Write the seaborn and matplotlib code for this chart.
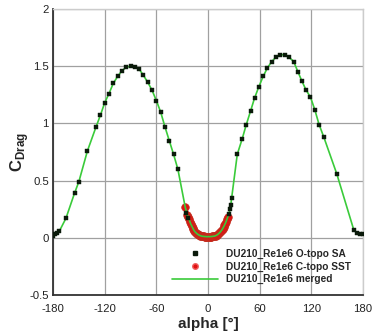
import numpy as np
import pandas as pd
import matplotlib
matplotlib.use("Agg")
import matplotlib.pyplot as plt
import seaborn as sns
from matplotlib.lines import Line2D
from matplotlib.ticker import MultipleLocator

# O-topology, Spalart-Allmaras polar
o_alpha = [-180, -177.5, -175, -172.5, -165, -155, -150, -140, -130, -125,
           -120, -115, -110, -105, -100, -95, -90, -85, -80, -75,
           -70, -65, -60, -55, -50, -45, -40, -35, -25, -23.5,
           24.5, 25.5, 26.5, 27.5, 34, 39.5, 44.5, 49.5, 54, 59,
           64, 69, 74, 79, 84, 89, 94, 99.5, 104.5, 109,
           114, 119, 124, 129, 134.5, 149.5, 169.5, 172.5, 176.5, 180]
o_cd = [0.02, 0.03, 0.04, 0.06, 0.17, 0.39, 0.49, 0.76, 0.97, 1.07,
        1.18, 1.26, 1.35, 1.41, 1.46, 1.49, 1.50, 1.495, 1.475, 1.42,
        1.36, 1.29, 1.20, 1.10, 0.97, 0.85, 0.73, 0.60, 0.22, 0.17,
        0.21, 0.25, 0.29, 0.35, 0.73, 0.86, 0.99, 1.11, 1.22, 1.32,
        1.41, 1.485, 1.54, 1.58, 1.60, 1.60, 1.58, 1.54, 1.45, 1.37,
        1.29, 1.23, 1.12, 0.99, 0.88, 0.56, 0.064, 0.046, 0.035, 0.03]

# C-topology, SST polar (attached-flow range)
c_alpha = [-26.5, -24, -23, -22, -21, -20, -19, -18, -17, -16,
           -15, -14, -13, -12, -11, -10, -9, -8, -7, -6,
           -5, -4, -3, -2, -1, 0, 1, 2, 3, 4,
           5, 6, 7, 8, 9, 10, 11, 12, 13, 14,
           15, 16, 17, 18, 19, 20, 21, 22, 23]
c_cd = [0.27, 0.20, 0.18, 0.16, 0.14, 0.12, 0.105, 0.09, 0.075, 0.062,
        0.052, 0.044, 0.037, 0.031, 0.026, 0.022, 0.019, 0.016, 0.014, 0.013,
        0.012, 0.011, 0.011, 0.010, 0.010, 0.010, 0.010, 0.010, 0.011, 0.011,
        0.012, 0.013, 0.014, 0.016, 0.019, 0.023, 0.028, 0.034, 0.041, 0.049,
        0.058, 0.068, 0.080, 0.093, 0.108, 0.124, 0.142, 0.162, 0.185]

labels = ["DU210_Re1e6 O-topo SA", "DU210_Re1e6 C-topo SST", "DU210_Re1e6 merged"]
x_ticks = [-180, -120, -60, 0, 60, 120, 180]
y_ticks = [-0.5, 0, 0.5, 1, 1.5, 2]

df_o = pd.DataFrame({"alpha": o_alpha, "cd": o_cd})
df_c = pd.DataFrame({"alpha": c_alpha, "cd": c_cd})
# merged polar: SST inside the attached range, SA outside it
c_lo, c_hi = min(c_alpha), max(c_alpha)
df_m = pd.concat([df_o[(df_o.alpha < c_lo) | (df_o.alpha > c_hi)], df_c])
df_m = df_m.sort_values("alpha").reset_index(drop=True)

sns.set_style("white")
plt.rcParams["font.family"] = ["Liberation Sans", "DejaVu Sans"]
plt.rcParams["mathtext.fontset"] = "custom"
plt.rcParams["mathtext.rm"] = "Liberation Sans"
plt.rcParams["mathtext.bf"] = "Liberation Sans:bold"

fig = plt.figure(figsize=(3.73, 3.36), dpi=100)
ax = fig.add_axes([53 / 373, 1 - 295 / 336, 310 / 373, 286 / 336])

green = "#3acb3a"
red = "#e01010"

sns.scatterplot(data=df_c, x="alpha", y="cd", ax=ax, marker="o", s=30,
                color=red, edgecolor="#c03020", linewidth=0.5, zorder=3, legend=False)
sns.lineplot(data=df_m, x="alpha", y="cd", ax=ax, sort=False, estimator=None,
             color=green, linewidth=1.2, zorder=4, legend=False)
sns.scatterplot(data=df_o, x="alpha", y="cd", ax=ax, marker="s", s=6,
                color="#0a1a0a", edgecolor="#0a1a0a", linewidth=0.3, zorder=5, legend=False)

ax.set_xlim(-180, 180)
ax.set_ylim(-0.5, 2)
ax.set_xticks(x_ticks)
ax.set_yticks(y_ticks)
ax.set_xticklabels([f"{t:g}" for t in x_ticks])
ax.set_yticklabels([f"{t:g}" for t in y_ticks])
ax.xaxis.set_minor_locator(MultipleLocator(10))
ax.yaxis.set_minor_locator(MultipleLocator(0.1))
ax.grid(True, which="major", color="#a0a0a0", linewidth=0.9)
ax.set_axisbelow(True)

ax.tick_params(axis="both", which="both", direction="in", top=False, right=False,
               colors="#222222", labelcolor="#222222")
ax.tick_params(axis="both", which="major", length=5, width=1.0, labelsize=8.2)
ax.tick_params(axis="x", which="major", pad=6.5)
ax.tick_params(axis="y", which="major", pad=3)
ax.tick_params(axis="both", which="minor", length=2.5, width=0.8)

for side in ("left", "bottom"):
    ax.spines[side].set_color("#333333")
    ax.spines[side].set_linewidth(1.3)
for side in ("top", "right"):
    ax.spines[side].set_color("#cccccc")
    ax.spines[side].set_linewidth(1.0)

ax.set_xlabel("alpha [°]", fontsize=11, fontweight="bold", labelpad=2)
ax.set_ylabel(r"$\mathbf{C}_{\mathbf{Drag}}$", fontsize=12)
ax.yaxis.set_label_coords(-0.072, 0.5)

handles = [
    Line2D([], [], linestyle="none", marker="s", markersize=2.6,
           markerfacecolor="#0a1a0a", markeredgecolor="#0a1a0a"),
    Line2D([], [], linestyle="none", marker="o", markersize=4,
           markerfacecolor=red, markeredgecolor="#f06060"),
    Line2D([], [], color=green, linewidth=1.2),
]
ax.legend(handles, labels, loc="lower right", bbox_to_anchor=(0.978, 0.02),
          frameon=False, prop={"size": 7.3, "weight": "bold"},
          handlelength=4.5, handletextpad=0.8, labelspacing=0.25, borderpad=0)

fig.savefig("out.png", dpi=100)
